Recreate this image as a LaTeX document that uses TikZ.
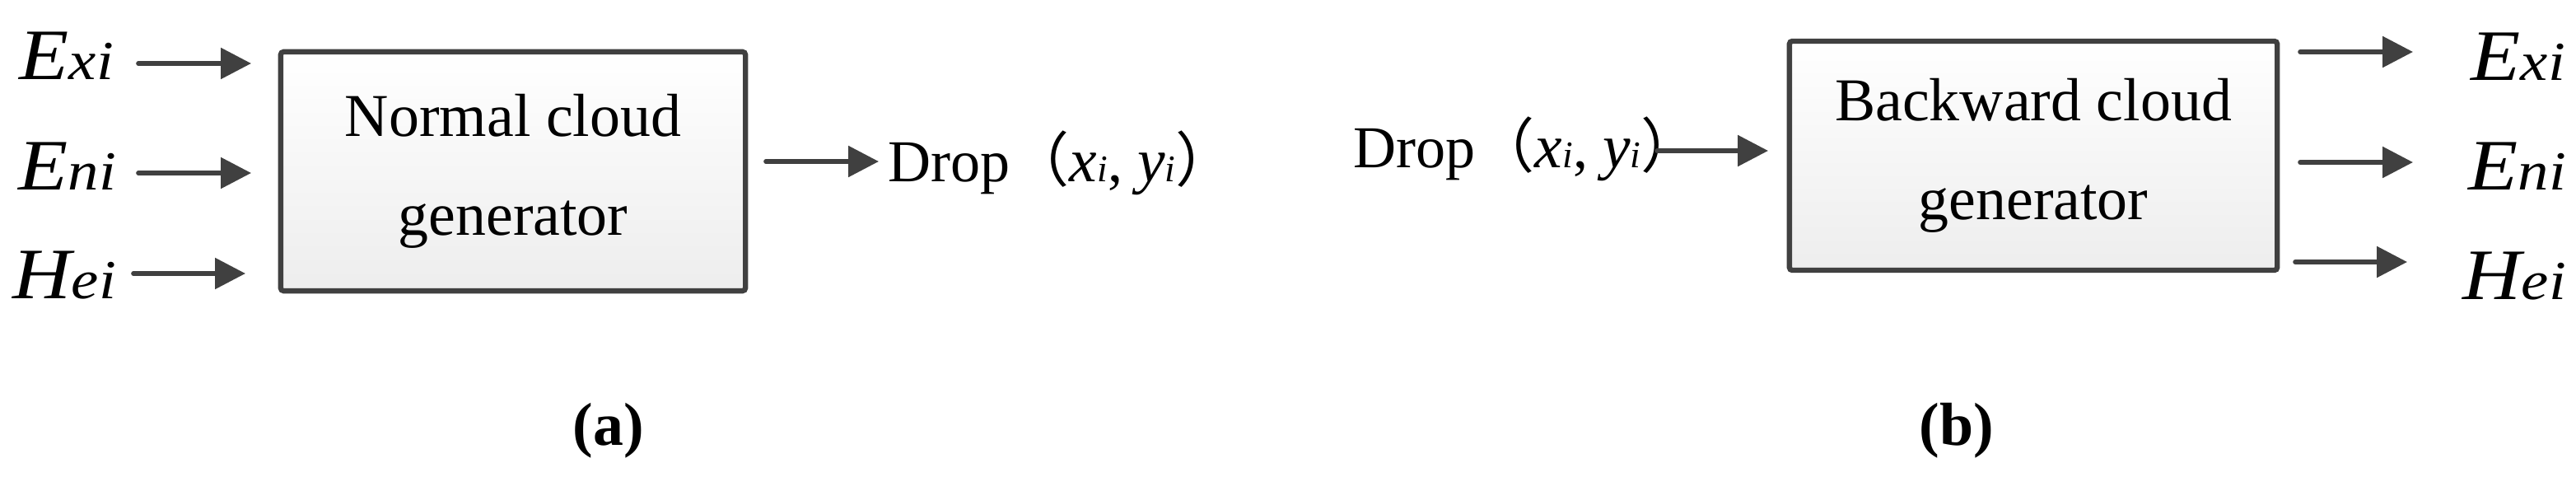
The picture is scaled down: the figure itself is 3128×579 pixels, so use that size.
\documentclass[tikz,border=0pt]{standalone}
\usepackage{fontspec}
\setmainfont{Liberation Serif}
\newfontfamily\cjk{Noto Sans CJK SC}
\usetikzlibrary{arrows.meta}
\definecolor{ink}{HTML}{404040}
\newcommand\biglab[2]{\scalebox{1.12}[1]{{\fontsize{25}{25}\selectfont\itshape #1}{\fontsize{19}{19}\selectfont\itshape #2}}}
\newcommand\smi{{\fontsize{13}{13}\selectfont\itshape i}}
\newcommand\droptext{Drop{\cjk （}{\fontsize{21.5}{21.5}\selectfont\itshape x}\smi, {\fontsize{21.5}{21.5}\selectfont\itshape y}\smi{\cjk ）}}
\tikzset{
  arr/.style={draw=ink, line width=1.6pt, line cap=round, -{Triangle[length=10.5pt,width=10.5pt]}},
  genbox/.style={draw=ink, line width=1.8pt, rounded corners=1pt, top color=white, bottom color=black!7,
    align=center, inner sep=0pt, font=\fontsize{21}{34.14}\selectfont},
  lbl/.style={anchor=base west, inner sep=0pt},
  droplbl/.style={lbl, font=\fontsize{20.5}{20.5}\selectfont},
  sublbl/.style={lbl, font=\bfseries\fontsize{21}{21}\selectfont}
}
\begin{document}
\begin{tikzpicture}[x=0.01cm, y=-0.01cm]
\useasboundingbox (0,0) rectangle (3128,579);
% ---------- (a) ----------
\node[genbox, minimum width=5.64cm, minimum height=2.90cm] (boxa) at (623,208) {Normal cloud\\generator};
\node[lbl] (exa) at (23,97) {\biglab{E}{xi}};
\node[lbl] (ena) at (22,230) {\biglab{E}{ni}};
\node[lbl] (hea) at (15,362) {\biglab{H}{ei}};
\coordinate (ia1) at (168,77);  \coordinate (ia1e) at (305,77);
\coordinate (ia2) at (168,210); \coordinate (ia2e) at (305,210);
\coordinate (ia3) at (162,332); \coordinate (ia3e) at (298,332);
\draw[arr] (ia1) -- (ia1e);
\draw[arr] (ia2) -- (ia2e);
\draw[arr] (ia3) -- (ia3e);
\coordinate (oa) at (930,196); \coordinate (oae) at (1067,196);
\draw[arr] (oa) -- (oae);
\node[droplbl] (dropa) at (1078,220) {\droptext};
\node[sublbl] (capa) at (695,540) {(a)};
% ---------- (b) ----------
\node[genbox, minimum width=5.92cm, minimum height=2.78cm] (boxb) at (2469,189) {Backward cloud\\generator};
\node[droplbl] (dropb) at (1643,203) {\droptext};
\coordinate (ib) at (2012,183); \coordinate (ibe) at (2147,183);
\draw[arr] (ib) -- (ibe);
\coordinate (ob1) at (2793,63);  \coordinate (ob1e) at (2930,63);
\coordinate (ob2) at (2793,197); \coordinate (ob2e) at (2930,197);
\coordinate (ob3) at (2787,318); \coordinate (ob3e) at (2923,318);
\draw[arr] (ob1) -- (ob1e);
\draw[arr] (ob2) -- (ob2e);
\draw[arr] (ob3) -- (ob3e);
\node[lbl] (exb) at (3000,98) {\biglab{E}{xi}};
\node[lbl] (enb) at (2997,230) {\biglab{E}{ni}};
\node[lbl] (heb) at (2990,363) {\biglab{H}{ei}};
\node[sublbl] (capb) at (2330,540) {(b)};
\end{tikzpicture}
\end{document}
